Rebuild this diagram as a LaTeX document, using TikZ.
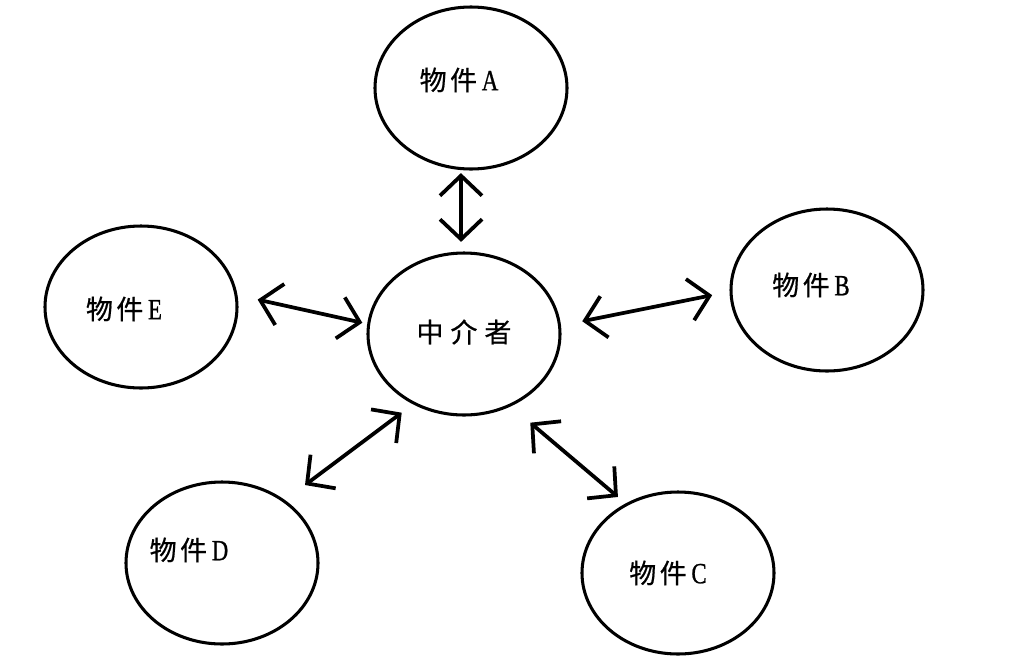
\documentclass[tikz,border=0pt]{standalone}
\usepackage{fontspec}
\setmainfont[FakeStretch=0.78, FakeBold=0.8]{Liberation Serif}
\newfontfamily\cjk[FakeBold=0.6]{Noto Sans CJK SC}
\usetikzlibrary{shapes.geometric,arrows.meta}

\newcommand{\wujian}[1]{{\cjk 物\hspace{3pt}件}\hspace{4pt}{\fontsize{25}{26}\selectfont #1}}

\begin{document}
\begin{tikzpicture}[x=0.03cm, y=-0.03cm,
        obj/.style={draw, ellipse, line width=2.6pt, minimum width=5.76cm, minimum height=4.86cm},
        txt/.style={font=\fontsize{23}{26}\selectfont},
        link/.style={{Straight Barb[length=0.6cm,width=1.26cm]}-{Straight Barb[length=0.6cm,width=1.26cm]}, line width=3.2pt}]
        \useasboundingbox (0, 0) rectangle (1024, 660);
        \node[obj, label={[txt, yshift=0.06cm]center:{\cjk 中\hspace{6pt}介\hspace{6pt}者}}] at (464, 334) (M) {};
        \node[obj, label={[txt, xshift=-0.36cm, yshift=0.24cm]center:\wujian{A}}] at (471, 88) (A) {};
        \node[obj, label={[txt, xshift=-0.48cm, yshift=0.15cm]center:\wujian{B}}] at (827, 290) (B) {};
        \node[obj, label={[txt, xshift=-0.30cm]center:\wujian{C}}] at (678, 573) (C) {};
        \node[obj, label={[txt, xshift=-0.99cm, yshift=0.39cm]center:\wujian{D}}] at (222, 563) (D) {};
        \node[obj, label={[txt, xshift=-0.51cm, yshift=-0.06cm]center:\wujian{E}}] at (141, 307) (E) {};
        \draw[link, shorten <=0.09cm, shorten >=0.29cm] (A.263) -- (M.92);
        \draw[link, shorten <=0.65cm, shorten >=0.53cm] (M.5) -- (B.181);
        \draw[link, shorten <=0.76cm, shorten >=0.30cm] (M.303) -- (C.127);
        \draw[link, shorten <=0.42cm, shorten >=0.75cm] (M.234) -- (D.45);
        \draw[link, shorten <=0.62cm, shorten >=0.15cm] (E.7) -- (M.174);
\end{tikzpicture}
\end{document}
